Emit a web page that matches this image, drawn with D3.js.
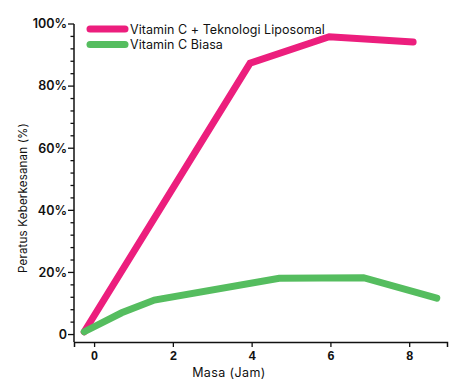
<!DOCTYPE html>
<html>
<head>
<meta charset="utf-8">
<script src="https://cdn.jsdelivr.net/npm/d3@7"></script>
<style>
  body { margin: 0; background: #fff; }
  svg { display: block; font-family: Inter, "Noto Sans", sans-serif; }
</style>
</head>
<body>
<div id="chart"></div>
<script>
// data
const seriesNames = ['Vitamin C + Teknologi Liposomal', 'Vitamin C Biasa'];
const seriesColors = ['#ec1e7d', '#55bd5f'];
const liposomalX = [-0.25, 3.96, 5.97, 8.1];
const liposomalY = [0.9, 87.4, 95.9, 94.2];
const biasaX = [-0.25, 0.7, 1.53, 4.7, 6.84, 8.7];
const biasaY = [0.9, 7.0, 11.1, 18.1, 18.3, 11.7];
const xTicks = [0, 2, 4, 6, 8];
const yTicks = [0, 20, 40, 60, 80, 100];

const W = 462, H = 388;
const margin = { top: 24, right: 15, bottom: 46, left: 74 };

const svg = d3.select('#chart')
    .append('svg')
    .attr('width', W)
    .attr('height', H);

const x = d3.scaleLinear()
    .domain([-0.51, 8.96])
    .range([margin.left, W - margin.right]);

const y = d3.scaleLinear()
    .domain([-2.4, 100])
    .range([H - margin.bottom, margin.top]);

// y axis: majors + minors every 4%
const yMinor = d3.range(0, 101, 4).filter(v => v % 20 !== 0);
const yAxisG = svg.append('g')
    .attr('transform', `translate(${margin.left},0)`);
yAxisG.append('line')
    .attr('x1', 0).attr('x2', 0)
    .attr('y1', y(100)).attr('y2', H - margin.bottom)
    .attr('stroke', '#111').attr('stroke-width', 1.5);
yAxisG.selectAll('.minor')
    .data(yMinor)
    .enter()
    .append('line')
    .attr('class', 'minor')
    .attr('x1', -3.5).attr('x2', 0)
    .attr('y1', d => y(d)).attr('y2', d => y(d))
    .attr('stroke', '#111').attr('stroke-width', 1.3);
yAxisG.selectAll('.major')
    .data(yTicks)
    .enter()
    .append('line')
    .attr('class', 'major')
    .attr('x1', -6).attr('x2', 0)
    .attr('y1', d => y(d)).attr('y2', d => y(d))
    .attr('stroke', '#111').attr('stroke-width', 1.3);
yAxisG.selectAll('.lbl')
    .data(yTicks)
    .enter()
    .append('text')
    .attr('class', 'lbl')
    .attr('x', -7)
    .attr('y', d => y(d))
    .attr('dy', '0.35em')
    .attr('text-anchor', 'end')
    .attr('font-size', 12.5)
    .attr('font-weight', 600)
    .attr('fill', '#111')
    .text(d => d === 0 ? '0' : d + '%');

// x axis
const xAxis = d3.axisBottom(x)
    .tickValues(xTicks)
    .tickSize(5)
    .tickPadding(4)
    .tickFormat(d3.format('d'));
const xAxisG = svg.append('g')
    .attr('transform', `translate(0,${H - margin.bottom})`)
    .call(xAxis);
xAxisG.select('.domain')
    .attr('stroke', '#111').attr('stroke-width', 1.5);
xAxisG.selectAll('.tick line')
    .attr('stroke', '#111').attr('stroke-width', 1.3);
xAxisG.selectAll('.tick text')
    .attr('font-size', 12.5)
    .attr('font-weight', 600)
    .attr('fill', '#111');

// axis titles
svg.append('text')
    .attr('x', 229)
    .attr('y', 377)
    .attr('text-anchor', 'middle')
    .attr('font-size', 12.5)
    .attr('letter-spacing', 0.4)
    .attr('fill', '#111')
    .text('Masa (Jam)');
svg.append('text')
    .attr('transform', 'translate(27,198) rotate(-90)')
    .attr('text-anchor', 'middle')
    .attr('font-size', 11.5)
    .attr('letter-spacing', 0.2)
    .attr('fill', '#111')
    .text('Peratus Keberkesanan (%)');

// lines
const line = d3.line()
    .x(d => x(d[0]))
    .y(d => y(d[1]));

const series = [
    d3.zip(liposomalX, liposomalY),
    d3.zip(biasaX, biasaY),
];

svg.selectAll('.series')
    .data(series)
    .enter()
    .append('path')
    .attr('class', 'series')
    .attr('d', line)
    .attr('fill', 'none')
    .attr('stroke', (d, i) => seriesColors[i])
    .attr('stroke-width', 7)
    .attr('stroke-linecap', 'round')
    .attr('stroke-linejoin', 'miter');

// legend
const legend = svg.append('g')
    .attr('transform', 'translate(90,29)');
const item = legend.selectAll('g')
    .data(seriesNames)
    .enter()
    .append('g')
    .attr('transform', (d, i) => `translate(0,${i * 15.5})`);
item.append('line')
    .attr('x1', 0).attr('x2', 35)
    .attr('stroke', (d, i) => seriesColors[i])
    .attr('stroke-width', 7)
    .attr('stroke-linecap', 'round');
item.append('text')
    .attr('x', 40)
    .attr('dy', '0.36em')
    .attr('font-size', 12.5)
    .attr('letter-spacing', 0.05)
    .attr('fill', '#111')
    .text(d => d);
</script>
</body>
</html>
